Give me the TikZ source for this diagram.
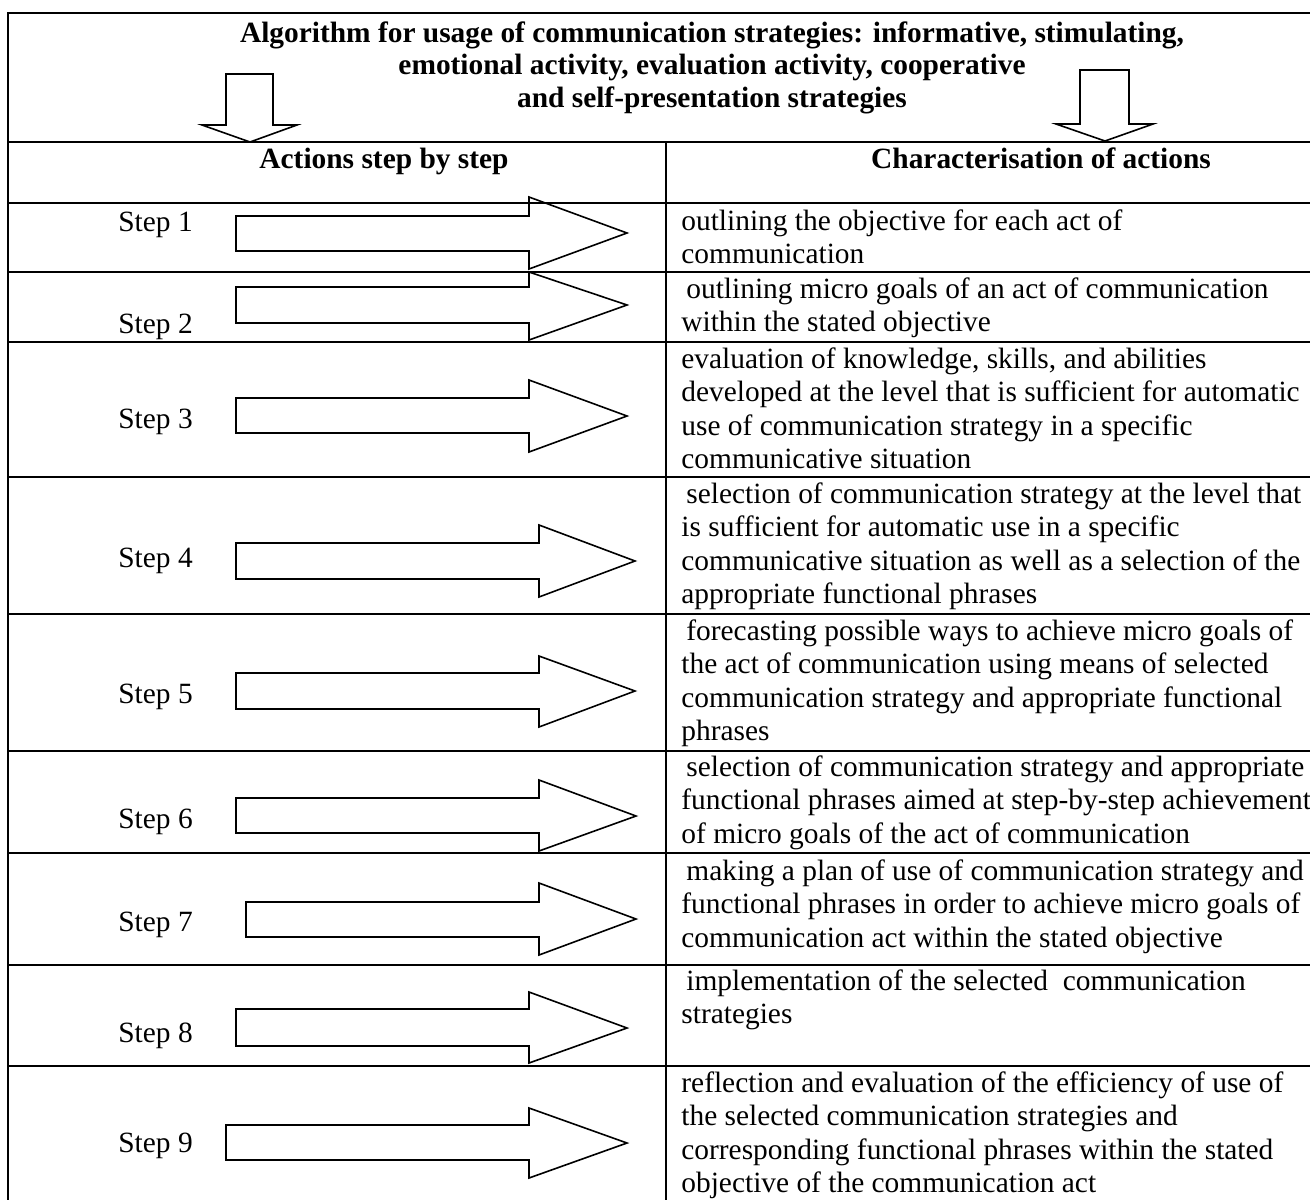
\documentclass[tikz,border=0pt]{standalone}
\usepackage{fontspec}
\setmainfont{Liberation Serif}
\begin{document}
\begin{tikzpicture}[x=0.5pt,y=-0.5pt,
  grid/.style={line width=1.2pt},
  arr/.style={line width=0.8pt,line join=miter},
  body/.style={font=\fontsize{14.7pt}{16.75pt}\selectfont,inner sep=0pt,anchor=base west,align=left},
  steplabel/.style={font=\fontsize{14.7pt}{16.75pt}\selectfont,inner sep=0pt,anchor=base west},
  headtext/.style={font=\bfseries\fontsize{14.7pt}{16.75pt}\selectfont,inner sep=0pt,anchor=base},
  titletext/.style={font=\bfseries\fontsize{14.7pt}{16.25pt}\selectfont,inner sep=0pt,anchor=base,align=center}]
\useasboundingbox (0,0) rectangle (1310,1200);
% table lines
\draw[grid] (8,13) -- (8,1200);
\draw[grid] (666,142) -- (666,1200);
\foreach \yy in {13,142,203,272,342,477,614,751,853,965,1066}
  \draw[grid] (7,\yy) -- (1310,\yy);
% title (anchor = baseline of the last line)
\node[titletext] (title) at (712,107) {Algorithm for usage of communication strategies: informative, stimulating,\\emotional activity, evaluation activity, cooperative\\and self-presentation strategies};
% down arrows
\draw[arr] (226,74) -- (273,74) -- (273,125) -- (297,125) -- (250,142) -- (202,125) -- (226,125) -- cycle;
\draw[arr] (1080,70) -- (1129,70) -- (1129,124) -- (1153,124) -- (1105,141) -- (1056,124) -- (1080,124) -- cycle;
% column headers
\node[headtext] (hleft) at (384,168) {Actions step by step};
\node[headtext] (hright) at (1041,168) {Characterisation of actions};
% step arrows
\foreach \xl/\st/\sb/\bx/\ht/\hb/\tx/\ty in {
  236/216/251/529/197/269/627/233,
  236/287/323/529/272/340/627/305,
  236/398/433/529/380/452/627/416,
  236/543/579/539/525/597/635/561,
  236/673/709/539/656/727/635/691,
  236/798/833/539/780/851/636/816,
  246/902/937/539/883/955/636/919,
  236/1009/1046/529/992/1063/627/1028,
  226/1125/1160/529/1108/1178/627/1143}
  \draw[arr] (\xl,\st) -- (\bx,\st) -- (\bx,\ht) -- (\tx,\ty) -- (\bx,\hb) -- (\bx,\sb) -- (\xl,\sb) -- cycle;
% step labels
\node[steplabel] (s1) at (118,231) {Step 1};
\node[steplabel] (s2) at (118,333) {Step 2};
\node[steplabel] (s3) at (118,428) {Step 3};
\node[steplabel] (s4) at (118,567) {Step 4};
\node[steplabel] (s5) at (118,703) {Step 5};
\node[steplabel] (s6) at (118,828) {Step 6};
\node[steplabel] (s7) at (118,931) {Step 7};
\node[steplabel] (s8) at (118,1042) {Step 8};
\node[steplabel] (s9) at (118,1152) {Step 9};
% descriptions (anchor = baseline of the last line)
\node[body] (d1) at (681,263.5) {outlining the objective for each act of\\communication};
\node[body] (d2) at (681,331.5) {\hspace{2.5pt}outlining micro goals of an act of communication\\within the stated objective};
\node[body] (d3) at (681,468.5) {evaluation of knowledge, skills, and abilities\\developed at the level that is sufficient for automatic\\use of communication strategy in a specific\\communicative situation};
\node[body] (d4) at (681,603.5) {\hspace{2.5pt}selection of communication strategy at the level that\\is sufficient for automatic use in a specific\\communicative situation as well as a selection of the\\appropriate functional phrases};
\node[body] (d5) at (681,740.5) {\hspace{2.5pt}forecasting possible ways to achieve micro goals of\\the act of communication using means of selected\\communication strategy and appropriate functional\\phrases};
\node[body] (d6) at (681,843) {\hspace{2.5pt}selection of communication strategy and appropriate\\functional phrases aimed at step-by-step achievement\\of micro goals of the act of communication};
\node[body] (d7) at (681,947) {\hspace{2.5pt}making a plan of use of communication strategy and\\functional phrases in order to achieve micro goals of\\communication act within the stated objective};
\node[body] (d8) at (681,1023.5) {\hspace{2.5pt}implementation of the selected\ \ communication\\strategies};
\node[body] (d9) at (681,1192.5) {reflection and evaluation of the efficiency of use of\\the selected communication strategies and\\corresponding functional phrases within the stated\\objective of the communication act};
\end{tikzpicture}
\end{document}
